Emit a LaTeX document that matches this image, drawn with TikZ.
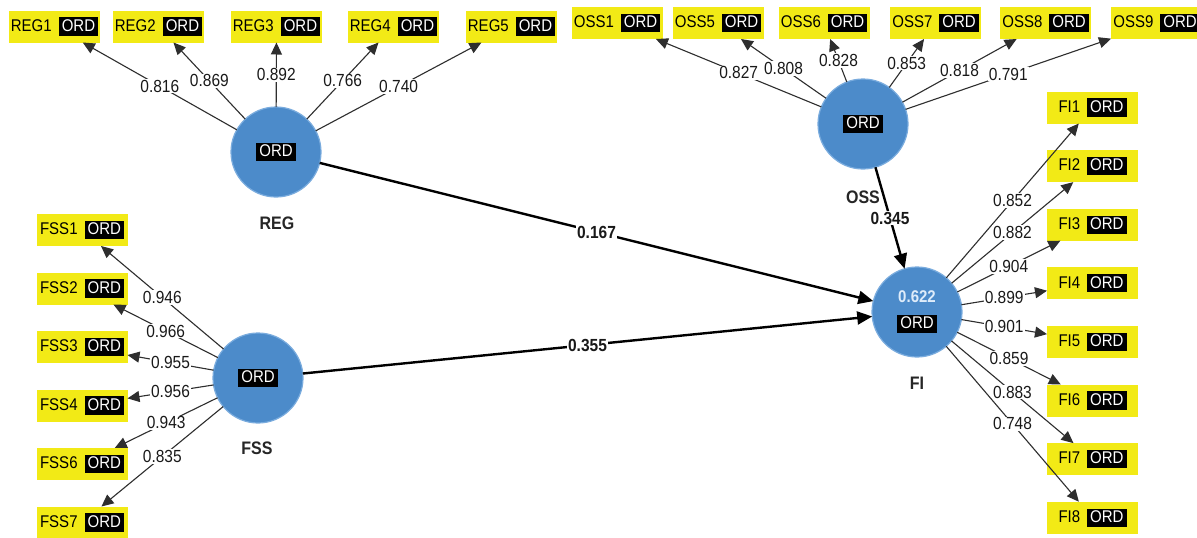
\documentclass[tikz,border=0pt]{standalone}
\usepackage{fontspec}
\setmainfont{Liberation Sans}
\usetikzlibrary{arrows.meta}
\definecolor{plsblue}{RGB}{76,139,202}
\definecolor{plsedge}{RGB}{122,172,222}
\definecolor{plsyellow}{RGB}{242,234,22}
\definecolor{rsqcol}{RGB}{222,236,250}
\newcommand{\vt}[1]{\scalebox{1}[1.13]{#1}}
\newcommand{\ordtag}{{\setlength{\fboxsep}{2pt}\colorbox{black}{\hspace{1pt}\textcolor{white}{\rule[-2.3pt]{0pt}{12.7pt}\vt{ORD}}\hspace{1pt}}}}
\newcommand{\indtext}[1]{\vt{#1}\hspace{7pt}\ordtag}
\tikzset{
  ind/.style={rectangle, fill=plsyellow, minimum width=91pt, minimum height=32pt,
    inner sep=0pt, outer sep=0pt, font=\fontsize{15}{18}\selectfont},
  lat/.style={circle, fill=plsblue, draw=plsedge, line width=1.2pt, minimum size=90pt,
    inner sep=0pt, outer sep=0pt, align=center, font=\fontsize{15}{18}\selectfont},
  latname/.style={font=\fontsize{16}{19}\selectfont\bfseries, text=black!85, inner sep=1pt},
  load/.style={draw=black!82, line width=1.1pt, -{Triangle[length=12pt,width=11pt]}},
  loadlbl/.style={fill=white, inner sep=1pt, font=\fontsize{15.5}{18}\selectfont, text=black!90},
  pathedge/.style={draw=black, line width=2.4pt, -{Triangle[length=15pt,width=13pt]}},
  pathlbl/.style={fill=white, inner sep=1pt, font=\fontsize{15.5}{18}\selectfont\bfseries, text=black!90}
}
\begin{document}
\begin{tikzpicture}[x=1pt,y=-1pt]
\useasboundingbox (0,0) rectangle (1197,538);
\fill[white] (0,0) rectangle (1197,538);

% latent variables
\node[lat] (REG) at (276,152) {\ordtag};
\node[lat] (OSS) at (863,124) {\ordtag};
\node[lat] (FSS) at (258,378) {\ordtag};
\node[lat] (FI) at (917,312) {{\bfseries\color{rsqcol}\vt{0.622}}\\[8pt]\ordtag};

\node[latname] (REGn) at (277,223) {\vt{REG}};
\node[latname] (OSSn) at (863,197) {\vt{OSS}};
\node[latname] (FSSn) at (257,448) {\vt{FSS}};
\node[latname] (FIn) at (917,383) {\vt{FI}};

% REG indicators
\node[ind] (REG1) at (54.5,26.5) {\indtext{REG1}};
\node[ind] (REG2) at (158.5,26.5) {\indtext{REG2}};
\node[ind] (REG3) at (276.5,26.5) {\indtext{REG3}};
\node[ind] (REG4) at (393.5,26.5) {\indtext{REG4}};
\node[ind] (REG5) at (511.5,26.5) {\indtext{REG5}};

% OSS indicators
\node[ind] (OSS1) at (617,23) {\indtext{OSS1}};
\node[ind] (OSS5) at (718,23) {\indtext{OSS5}};
\node[ind] (OSS6) at (824,23) {\indtext{OSS6}};
\node[ind] (OSS7) at (935.5,23) {\indtext{OSS7}};
\node[ind] (OSS8) at (1045.5,23) {\indtext{OSS8}};
\node[ind] (OSS9) at (1156.5,23) {\indtext{OSS9}};

% FSS indicators
\node[ind] (FSS1) at (82,230) {\indtext{FSS1}};
\node[ind] (FSS2) at (82,288.5) {\indtext{FSS2}};
\node[ind] (FSS3) at (82,347) {\indtext{FSS3}};
\node[ind] (FSS4) at (82,405.5) {\indtext{FSS4}};
\node[ind] (FSS6) at (82,464) {\indtext{FSS6}};
\node[ind] (FSS7) at (82,522.5) {\indtext{FSS7}};

% FI indicators
\node[ind] (FI1) at (1092.5,107.5) {\indtext{FI1}};
\node[ind] (FI2) at (1092.5,166.1) {\indtext{FI2}};
\node[ind] (FI3) at (1092.5,224.7) {\indtext{FI3}};
\node[ind] (FI4) at (1092.5,283.3) {\indtext{FI4}};
\node[ind] (FI5) at (1092.5,341.9) {\indtext{FI5}};
\node[ind] (FI6) at (1092.5,400.5) {\indtext{FI6}};
\node[ind] (FI7) at (1092.5,459.1) {\indtext{FI7}};
\node[ind] (FI8) at (1092.5,517.7) {\indtext{FI8}};

% loadings
\draw[load] (REG) -- node[loadlbl]{\vt{0.816}} (REG1);
\draw[load] (REG) -- node[loadlbl]{\vt{0.869}} (REG2);
\draw[load] (REG) -- node[loadlbl]{\vt{0.892}} (REG3);
\draw[load] (REG) -- node[loadlbl]{\vt{0.766}} (REG4);
\draw[load] (REG) -- node[loadlbl]{\vt{0.740}} (REG5);

\draw[load] (OSS) -- node[loadlbl]{\vt{0.827}} (OSS1);
\draw[load] (OSS) -- node[loadlbl]{\vt{0.808}} (OSS5);
\draw[load] (OSS) -- node[loadlbl]{\vt{0.828}} (OSS6);
\draw[load] (OSS) -- node[loadlbl]{\vt{0.853}} (OSS7);
\draw[load] (OSS) -- node[loadlbl]{\vt{0.818}} (OSS8);
\draw[load] (OSS) -- node[loadlbl]{\vt{0.791}} (OSS9);

\draw[load] (FSS) -- node[loadlbl]{\vt{0.946}} (FSS1);
\draw[load] (FSS) -- node[loadlbl]{\vt{0.966}} (FSS2);
\draw[load] (FSS) -- node[loadlbl]{\vt{0.955}} (FSS3);
\draw[load] (FSS) -- node[loadlbl]{\vt{0.956}} (FSS4);
\draw[load] (FSS) -- node[loadlbl]{\vt{0.943}} (FSS6);
\draw[load] (FSS) -- node[loadlbl]{\vt{0.835}} (FSS7);

\draw[load] (FI) -- node[loadlbl]{\vt{0.852}} (FI1);
\draw[load] (FI) -- node[loadlbl]{\vt{0.882}} (FI2);
\draw[load] (FI) -- node[loadlbl]{\vt{0.904}} (FI3);
\draw[load] (FI) -- node[loadlbl]{\vt{0.899}} (FI4);
\draw[load] (FI) -- node[loadlbl]{\vt{0.901}} (FI5);
\draw[load] (FI) -- node[loadlbl]{\vt{0.859}} (FI6);
\draw[load] (FI) -- node[loadlbl]{\vt{0.883}} (FI7);
\draw[load] (FI) -- node[loadlbl]{\vt{0.748}} (FI8);

% structural paths
\draw[pathedge] (REG) -- node[pathlbl]{\vt{0.167}} (FI);
\draw[pathedge] (FSS) -- node[pathlbl]{\vt{0.355}} (FI);
\draw[pathedge] (OSS) -- node[pathlbl]{\vt{0.345}} (FI);
\end{tikzpicture}
\end{document}
